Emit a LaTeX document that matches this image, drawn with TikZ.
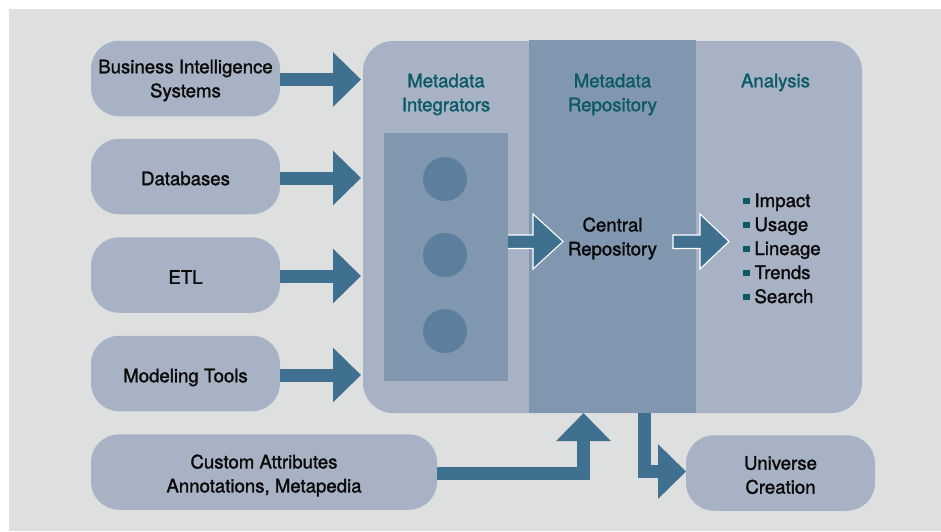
\documentclass[tikz,border=0pt]{standalone}
\usepackage{fontspec}
\setmainfont[FakeBold=1.6]{TeX Gyre Heros}
\usetikzlibrary{arrows.meta,calc}
\definecolor{pagebg}{HTML}{DEE0E0}
\definecolor{boxc}{HTML}{A7B3C4}
\definecolor{colc}{HTML}{8197AF}
\definecolor{dotc}{HTML}{5B7F9D}
\definecolor{arrc}{HTML}{3F7090}
\definecolor{headc}{HTML}{0C5A66}
\definecolor{inkc}{HTML}{0A0A0A}
\tikzset{
 x=1pt,y=-1pt,
 every node/.style={inner sep=0pt,outer sep=0pt},
 txt/.style={font=\fontsize{18.6}{24}\selectfont,text=inkc,align=center},
 headtxt/.style={txt,text=headc},
 srcbox/.style={fill=boxc,rounded corners=28pt,minimum height=75.5pt,txt},
 blockarrow/.style={draw=arrc,line width=13pt,-{Triangle[length=28pt,width=53pt,color=arrc]}},
 outlined/.style={fill=arrc,draw=white,line width=1.1pt,miter limit=10},
 bullet/.style={fill=headc,minimum size=6.5pt},
 listtxt/.style={txt,anchor=base west},
}
\begin{document}
\begin{tikzpicture}
\useasboundingbox (0,0) rectangle (941,531);
\fill[white] (0,0) rectangle (941,531);
\fill[pagebg] (9,9) rectangle (941,531);
% main panel
\node[fill=boxc,rounded corners=30pt,minimum width=499pt,minimum height=372pt] (main) at (612.5,227) {};
\node[fill=colc,minimum width=167pt,minimum height=373pt] (repo) at (612.5,226.5) {};
\node[fill=colc,minimum width=124pt,minimum height=248pt] (integ) at (446,257) {};
\foreach \n/\y in {a/179,b/255,c/331}
  \node[fill=dotc,circle,minimum size=44pt] (dot\n) at (445,\y) {};
% source boxes
\node[srcbox,minimum width=189pt,label={[txt,yshift=-2pt]center:Business Intelligence\\Systems}] (bi) at (185.5,78.5) {};
\node[srcbox,minimum width=189pt,label={[txt,yshift=-2pt]center:Databases}] (db) at (185.5,176.5) {};
\node[srcbox,minimum width=189pt,label={[txt,yshift=-2pt]center:ETL}] (etl) at (185.5,275) {};
\node[srcbox,minimum width=189pt,label={[txt,yshift=-4pt]center:Modeling Tools}] (model) at (185.5,373.5) {};
\node[srcbox,minimum width=346pt,label={[txt,yshift=-3.5pt]center:Custom Attributes\\Annotations, Metapedia}] (custom) at (264,472) {};
\node[srcbox,minimum width=189pt,label={[txt,yshift=-2pt]center:Universe\\Creation}] (universe) at (780.5,473) {};
% arrows into the panel
\coordinate (ta) at ($(main.west |- bi.east)+(-2,1)$);
\coordinate (tb) at ($(main.west |- db.east)+(-2,1.5)$);
\coordinate (tc) at ($(main.west |- etl.east)+(-2,1)$);
\coordinate (td) at ($(main.west |- model.east)+(-2,1.5)$);
\draw[blockarrow] (bi.east |- ta) -- (ta);
\draw[blockarrow] (db.east |- tb) -- (tb);
\draw[blockarrow] (etl.east |- tc) -- (tc);
\draw[blockarrow] (model.east |- td) -- (td);
% bottom arrows
\coordinate (ca) at (583.5,473);
\coordinate (ub) at (644.5,471.5);
\draw[blockarrow] (custom.east |- ca) -- (ca) -- (repo.south -| ca);
\draw[blockarrow] (repo.south -| ub) -- (ub) -- (universe.west |- ub);
% outlined arrows
\path[outlined,draw=none] (508,235) -- (533,235) -- (533,214) -- (563,241.5) -- (533,269) -- (533,248.5) -- (508,248.5) -- cycle;
\draw[white,line width=1.1pt,miter limit=10] (integ.east |- 0,235) -- (533,235) -- (533,214) -- (563,241.5) -- (533,269) -- (533,248.5) -- (integ.east |- 0,248.5);
\draw[outlined] (673,235) -- (700,235) -- (700,214) -- (729,241.5) -- (700,269) -- (700,248.5) -- (673,248.5) -- cycle;
% headings
\node[headtxt] (h1) at (446,94.5) {Metadata\\Integrators};
\node[headtxt] (h2) at (612.5,94.5) {Metadata\\Repository};
\node[headtxt] (h3) at (775.5,82.5) {Analysis};
\node[txt] (central) at (612.5,238.5) {Central\\Repository};
% list
\foreach \n/\t/\y in {p/Impact/201,q/Usage/225,r/Lineage/249,s/Trends/273,u/Search/297}{
  \node[bullet] (b\n) at (746.5,\y) {};
  \node[listtxt] (l\n) at (754.5,\y+6) {\t};
}
\end{tikzpicture}
\end{document}
